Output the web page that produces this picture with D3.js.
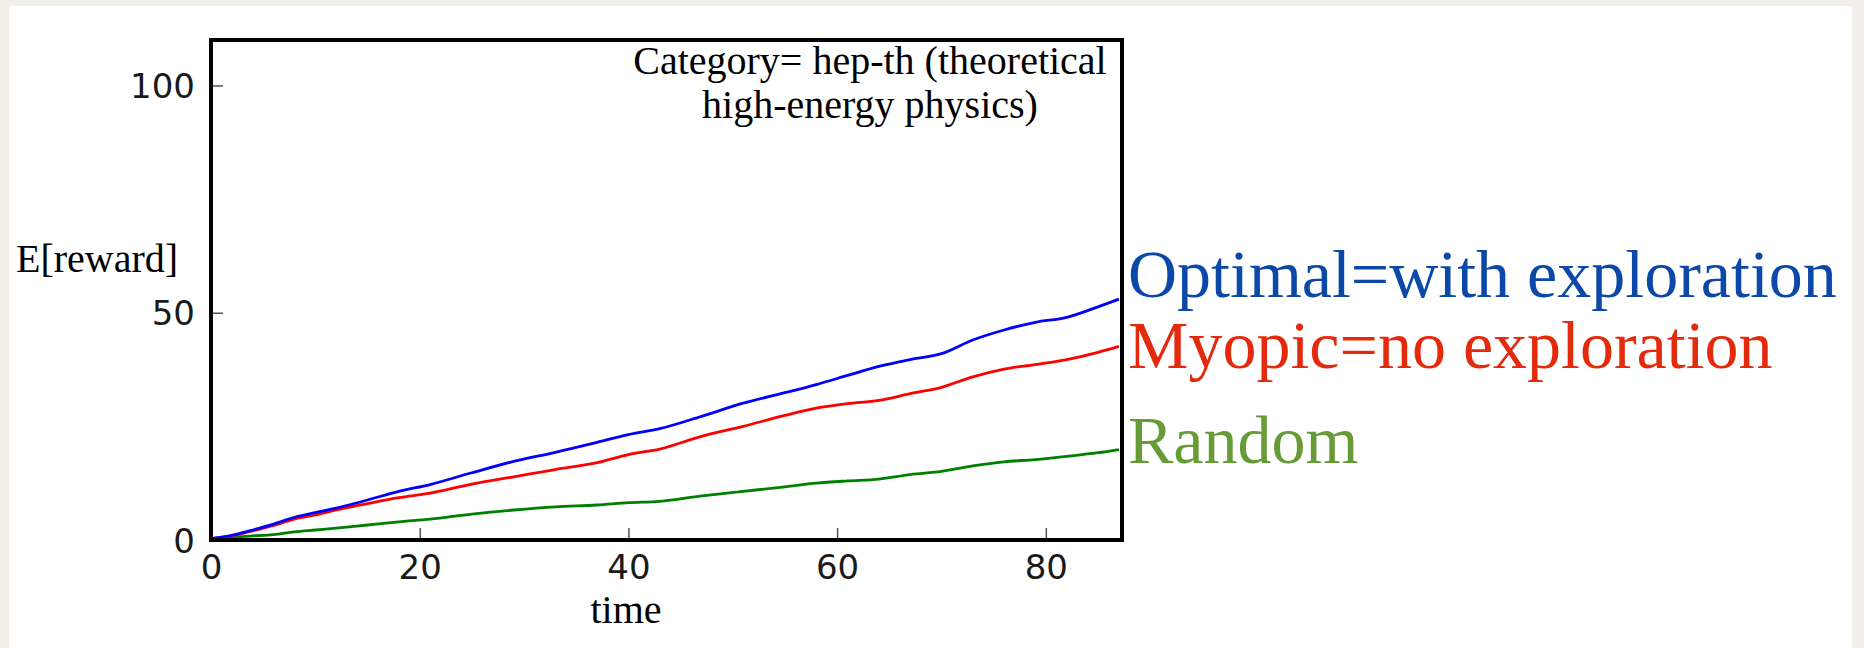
<!DOCTYPE html>
<html>
<head>
<meta charset="utf-8">
<script src="https://cdn.jsdelivr.net/npm/d3@7"></script>
<style>
  html, body { margin: 0; padding: 0; background: #f2efe9; }
  svg { display: block; }
</style>
</head>
<body>
<svg id="chart" width="1864" height="648"></svg>
<script>
// ---- data ----
const times    = [0, 2, 4, 6, 8, 10, 12, 15, 18, 21, 25, 29, 33, 37, 40, 43, 47, 51, 55, 58, 61, 64, 67, 70, 73, 76, 79, 82, 85, 87];
const optimal  = [0.3, 1.0, 2.2, 3.5, 5.0, 6.0, 7.0, 8.8, 10.7, 12.2, 14.8, 17.3, 19.3, 21.5, 23.2, 24.5, 27.2, 30.1, 32.4, 34.2, 36.2, 38.2, 39.7, 41.0, 44.0, 46.2, 47.9, 49.0, 51.3, 53.0];
const myopic   = [0.3, 0.9, 2.0, 3.2, 4.6, 5.5, 6.6, 8.0, 9.3, 10.3, 12.3, 13.9, 15.5, 17.0, 18.8, 20.0, 22.8, 25.0, 27.4, 29.0, 30.0, 30.7, 32.2, 33.6, 35.9, 37.6, 38.6, 39.7, 41.3, 42.6];
const random   = [0.2, 0.6, 0.9, 1.2, 1.8, 2.2, 2.6, 3.3, 4.0, 4.6, 5.7, 6.6, 7.3, 7.7, 8.2, 8.5, 9.7, 10.7, 11.7, 12.5, 13.0, 13.4, 14.4, 15.1, 16.3, 17.2, 17.7, 18.4, 19.2, 19.9];
const seriesNames  = ["Optimal=with exploration", "Myopic=no exploration", "Random"];
const xTicks = [0, 20, 40, 60, 80];
const yTicks = [0, 50, 100];
const xDomain = [0, 87.3];
const yDomain = [0, 110];
const titleLines = ["Category= hep-th (theoretical", "high-energy physics)"];
const xLabel = "time";
const yLabel = "E[reward]";

// ---- layout ----
const svg = d3.select("#chart");
const W = 1864, H = 648;
const plot = {left: 211, right: 1122, top: 40, bottom: 540};

// page panel
svg.append("rect").attr("x", 9).attr("y", 6).attr("width", 1843).attr("height", H).attr("fill", "#ffffff");

const x = d3.scaleLinear().domain(xDomain).range([plot.left, plot.right]);
const y = d3.scaleLinear().domain(yDomain).range([plot.bottom, plot.top]);

const lineColors = ["#0000ff", "#ff0000", "#008000"];
const labelColors = ["#0b48a8", "#e42a0c", "#679b35"];
const allSeries = [optimal, myopic, random];

// axes (ticks inward, no domain path)
const xAxis = d3.axisBottom(x).tickValues(xTicks).tickSize(-12).tickPadding(15).tickFormat(d3.format("d"));
const yAxis = d3.axisLeft(y).tickValues(yTicks).tickSize(-12).tickPadding(16).tickFormat(d3.format("d"));

const gx = svg.append("g").attr("transform", `translate(0,${plot.bottom})`).call(xAxis);
const gy = svg.append("g").attr("transform", `translate(${plot.left},0)`).call(yAxis);
[gx, gy].forEach(g => {
  g.select(".domain").remove();
  g.selectAll(".tick line").attr("stroke", "#555").attr("stroke-width", 1.5);
  g.selectAll(".tick text")
    .attr("fill", "#1a1a1a")
    .style("font-family", "'DejaVu Sans', sans-serif")
    .style("font-size", "34px");
});
gx.selectAll(".tick text").attr("dy", "0.71em");
gy.selectAll(".tick text").attr("dy", "0.36em");
// the 0 ticks sit on the frame
gx.selectAll(".tick").filter(d => d === 0).select("line").remove();
gy.selectAll(".tick").filter(d => d === 0).select("line").remove();

// lines
const line = d3.line().x((d, i) => x(times[i])).y(d => y(d)).curve(d3.curveMonotoneX);
svg.append("clipPath").attr("id", "clip").append("rect")
  .attr("x", plot.left).attr("y", plot.top).attr("width", plot.right - plot.left).attr("height", plot.bottom - plot.top);
[2, 1, 0].forEach(k => {
  svg.append("path")
    .datum(allSeries[k])
    .attr("d", line)
    .attr("fill", "none")
    .attr("stroke", lineColors[k])
    .attr("stroke-width", 2.8)
    .attr("stroke-linejoin", "round")
    .attr("clip-path", "url(#clip)");
});

// frame
svg.append("rect")
  .attr("x", plot.left).attr("y", plot.top)
  .attr("width", plot.right - plot.left).attr("height", plot.bottom - plot.top)
  .attr("fill", "none").attr("stroke", "#000").attr("stroke-width", 4);

const serif = "'Liberation Serif', 'Times New Roman', serif";

// title inside the plot
const titleY = [74, 118];
titleLines.forEach((t, i) => {
  svg.append("text")
    .attr("x", 870).attr("y", titleY[i])
    .attr("text-anchor", "middle")
    .style("font-family", serif).style("font-size", "40px")
    .attr("fill", "#000")
    .text(t);
});

// axis labels
svg.append("text").attr("x", 626).attr("y", 623).attr("text-anchor", "middle")
  .style("font-family", serif).style("font-size", "40px").attr("fill", "#000").text(xLabel);
svg.append("text").attr("x", 16).attr("y", 272).attr("text-anchor", "start")
  .style("font-family", serif).style("font-size", "40px").attr("fill", "#000").text(yLabel);

// series labels to the right of the plot
const labelY = [297, 368, 463];
seriesNames.forEach((n, i) => {
  svg.append("text")
    .attr("x", 1128).attr("y", labelY[i])
    .style("font-family", serif).style("font-size", "68px")
    .attr("fill", labelColors[i])
    .text(n);
});
</script>
</body>
</html>
